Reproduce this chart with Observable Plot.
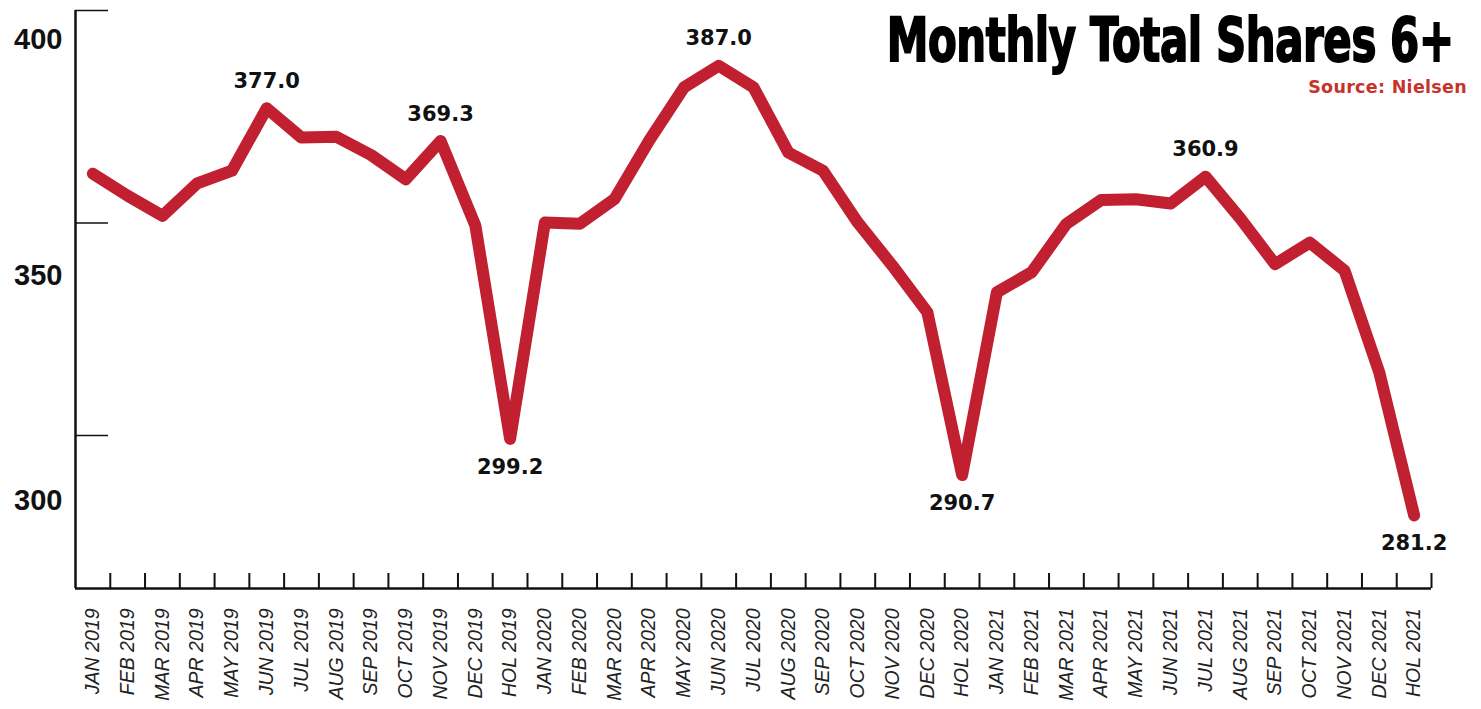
<!DOCTYPE html>
<html><head><meta charset="utf-8">
<script src="https://cdn.jsdelivr.net/npm/d3@7"></script>
<script src="https://cdn.jsdelivr.net/npm/@observablehq/plot@0.6"></script>
<style>
body{margin:0;background:#fff;}
#wrap{position:relative;width:1481px;height:709px;overflow:hidden;background:#fff;}
#title{position:absolute;right:27px;top:10px;font-family:"DejaVu Sans Condensed","Liberation Sans Narrow",sans-serif;font-weight:bold;font-size:60px;letter-spacing:-0.5px;color:#000;-webkit-text-stroke:1.8px #000;white-space:nowrap;line-height:1;transform:scaleX(0.776);transform-origin:right top;}
#source{position:absolute;right:14px;top:79px;font-family:"DejaVu Sans",sans-serif;font-weight:bold;font-size:17.5px;letter-spacing:0.3px;color:#C8322B;white-space:nowrap;line-height:1;}
#chart{position:absolute;left:0;top:0;}
</style></head>
<body><div id="wrap"><div id="chart"></div><div id="title">Monthly Total Shares 6+</div><div id="source">Source: Nielsen</div></div>
<script>
const categories = [
  "JAN 2019","FEB 2019","MAR 2019","APR 2019","MAY 2019","JUN 2019","JUL 2019","AUG 2019","SEP 2019","OCT 2019","NOV 2019","DEC 2019","HOL 2019",
  "JAN 2020","FEB 2020","MAR 2020","APR 2020","MAY 2020","JUN 2020","JUL 2020","AUG 2020","SEP 2020","OCT 2020","NOV 2020","DEC 2020","HOL 2020",
  "JAN 2021","FEB 2021","MAR 2021","APR 2021","MAY 2021","JUN 2021","JUL 2021","AUG 2021","SEP 2021","OCT 2021","NOV 2021","DEC 2021","HOL 2021"
];
const shares = [
  361.6, 356.4, 351.7, 359.3, 362.3, 377.0, 370.1, 370.3, 366.0, 360.3, 369.3, 349.4, 299.2,
  350.1, 349.8, 355.6, 369.4, 381.9, 387.0, 381.9, 366.6, 362.3, 350.1, 339.9, 329.0, 290.7,
  333.7, 338.4, 349.8, 355.4, 355.6, 354.6, 360.9, 351.1, 340.3, 345.4, 338.8, 314.8, 281.2
];
const labelsAbove = ["JUN 2019","NOV 2019","JUN 2020","JUL 2021"];
const labelsBelow = ["HOL 2019","HOL 2020","HOL 2021"];
const yTicks = [400, 350, 300];
const yDomain = [264, 400];

// styles / layout
const W = 1481, H = 709, ML = 75, MR = 50, MT = 10, MB = 121;
const bw = (W - ML - MR) / categories.length;
const yLabelDy = [29, 53, 65];
const lineColor = "#C0202F";

const data = categories.map((c, i) => ({month: c, value: shares[i]}));

const yLabelMarks = yTicks.map((t, i) => Plot.text([t], {
  y: d => d, text: d => String(d), frameAnchor: "left", textAnchor: "end",
  dx: -13, dy: yLabelDy[i], fontSize: 29, fontWeight: "bold",
  fontFamily: "Liberation Sans, Arial, sans-serif", fill: "#111"
}));

const chart = Plot.plot({
  width: W, height: H,
  marginLeft: ML, marginRight: MR, marginTop: MT, marginBottom: MB,
  x: {type: "band", domain: categories, padding: 0, round: false, axis: null, label: null},
  y: {domain: yDomain, axis: null, label: null},
  style: {background: "transparent", overflow: "visible"},
  marks: [
    Plot.axisX({tickSize: -15, tickFormat: () => "", label: null, dx: bw / 2, strokeWidth: 2, stroke: "#111"}),
    Plot.axisX({tickSize: 0, tickPadding: 20, tickRotate: -90, fontSize: 19.5, label: null,
      fontStyle: "italic", fontFamily: "Liberation Sans, Arial, sans-serif", fill: "#222"}),
    Plot.axisY({ticks: yTicks, tickSize: -33, tickFormat: () => "", label: null, strokeWidth: 1.5, stroke: "#111"}),
    ...yLabelMarks,
    Plot.ruleY([yDomain[0]], {stroke: "#111", strokeWidth: 2.5}),
    Plot.ruleX([categories[0]], {dx: -bw / 2, stroke: "#111", strokeWidth: 2.5}),
    Plot.line(data, {x: "month", y: "value", stroke: lineColor, strokeWidth: 12,
      strokeLinejoin: "round", strokeLinecap: "round"}),
    Plot.text(data.filter(d => labelsAbove.includes(d.month)), {
      x: "month", y: "value", text: d => d.value.toFixed(1), dy: -27,
      fontSize: 21, fontWeight: "bold", fontFamily: "DejaVu Sans, sans-serif", fill: "#111"}),
    Plot.text(data.filter(d => labelsBelow.includes(d.month)), {
      x: "month", y: "value", text: d => d.value.toFixed(1), dy: 28,
      fontSize: 21, fontWeight: "bold", fontFamily: "DejaVu Sans, sans-serif", fill: "#111"})
  ]
});
document.getElementById("chart").appendChild(chart);
</script>
</body></html>
